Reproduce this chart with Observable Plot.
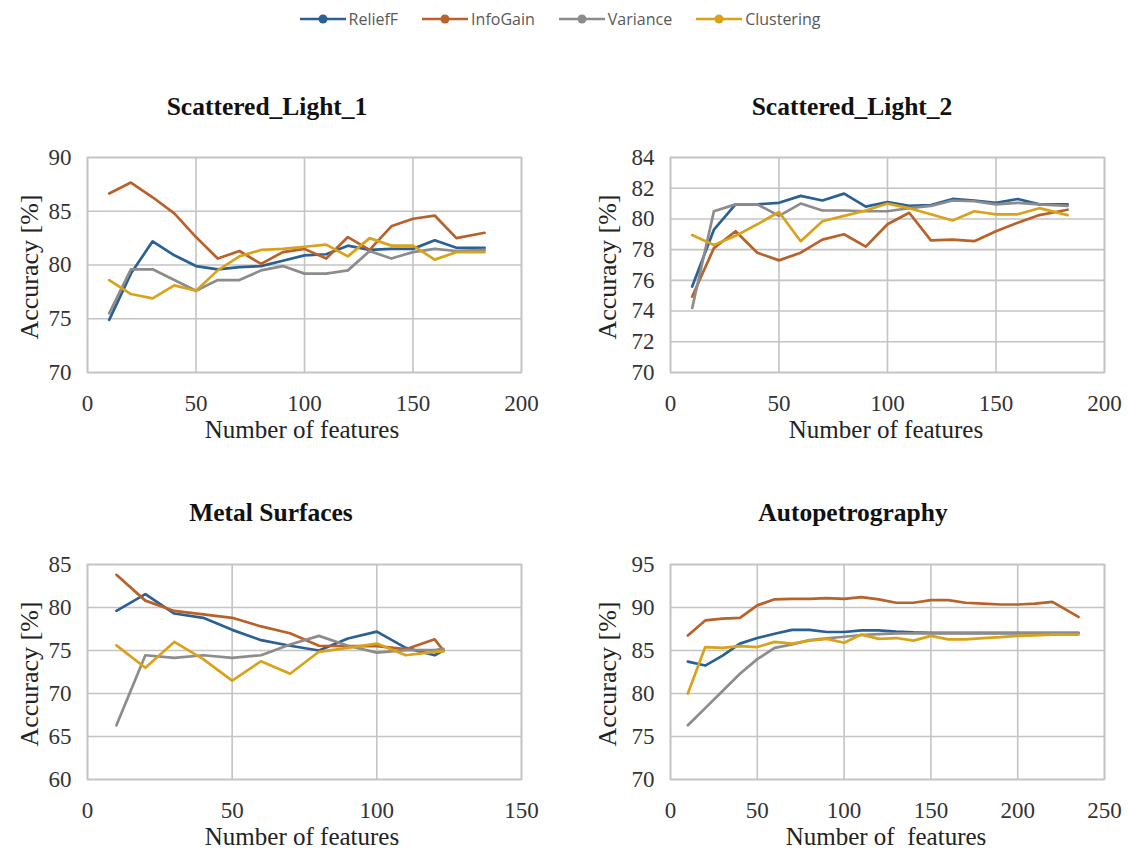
<!DOCTYPE html>
<html>
<head>
<meta charset="utf-8">
<script src="https://cdn.jsdelivr.net/npm/d3@7"></script>
<script src="https://cdn.jsdelivr.net/npm/@observablehq/plot@0.6"></script>
<style>
  html, body { margin: 0; padding: 0; background: #fff; overflow: hidden; }
  #root { position: relative; width: 1128px; height: 857px; }
  .abs { position: absolute; line-height: 1; }
  .ptitle { font-family: "Liberation Serif", serif; font-weight: bold; font-size: 25.5px; color: #111; transform: translate(-50%, -50%); white-space: nowrap; }
  .xtitle { font-family: "Liberation Serif", serif; font-size: 25px; color: #222; transform: translate(-50%, -50%); white-space: pre; }
  .ytitle { font-family: "Liberation Serif", serif; font-size: 26px; color: #222; transform: translate(-50%, -50%) rotate(-90deg); white-space: nowrap; }
  #legend { position: absolute; top: 9px; left: 0; width: 1120px; display: flex; justify-content: center; gap: 24px; font-family: "Open Sans", sans-serif; font-size: 16px; line-height: 20px; color: #595959; }
  #legend .item { display: flex; align-items: center; gap: 3px; }
</style>
</head>
<body>
<div id="root"></div>
<script>
// ---- data ----
const seriesNames = ["ReliefF", "InfoGain", "Variance", "Clustering"];
const seriesColors = ["#2b6094", "#b8622a", "#8c8c8c", "#d9a21a"];

// Scattered_Light_1
const sl1X = [10,20,30,40,50,60,70,80,90,100,110,120,130,140,150,160,170,183];
const sl1ReliefF = [74.9,79.2,82.2,80.9,79.9,79.6,79.8,79.9,80.4,80.9,81.0,81.8,81.4,81.5,81.5,82.3,81.6,81.6];
const sl1InfoGain = [86.65,87.67,86.3,84.8,82.6,80.6,81.3,80.1,81.2,81.5,80.6,82.6,81.4,83.6,84.3,84.6,82.5,83.0];
const sl1Variance = [75.5,79.6,79.6,78.6,77.6,78.6,78.6,79.5,79.9,79.2,79.2,79.5,81.3,80.6,81.2,81.5,81.3,81.4];
const sl1Clustering = [78.6,77.3,76.9,78.1,77.6,79.5,80.8,81.4,81.5,81.7,81.9,80.8,82.5,81.8,81.8,80.5,81.2,81.2];

// Scattered_Light_2
const sl2X = [10,20,30,40,50,60,70,80,90,100,110,120,130,140,150,160,170,183];
const sl2ReliefF = [75.6,79.3,80.95,80.95,81.05,81.5,81.2,81.65,80.8,81.1,80.85,80.9,81.3,81.2,81.05,81.3,80.95,80.95];
const sl2InfoGain = [74.95,78.1,79.2,77.8,77.3,77.8,78.65,79.0,78.2,79.65,80.4,78.6,78.65,78.55,79.2,79.75,80.25,80.6];
const sl2Variance = [74.2,80.5,80.95,80.95,80.2,81.0,80.55,80.55,80.5,80.5,80.7,80.85,81.2,81.15,80.95,81.05,80.95,80.85];
const sl2Clustering = [78.95,78.3,78.9,79.65,80.45,78.55,79.85,80.2,80.55,81.0,80.7,80.3,79.9,80.5,80.3,80.3,80.7,80.25];

// Metal Surfaces
const msX = [10,20,30,40,50,60,70,80,90,100,110,120,123];
const msReliefF = [79.6,81.55,79.3,78.8,77.4,76.2,75.55,75.0,76.4,77.2,75.3,74.45,75.0];
const msInfoGain = [83.8,80.8,79.6,79.2,78.8,77.8,77.0,75.55,75.5,75.5,75.15,76.3,75.0];
const msVariance = [66.3,74.45,74.15,74.45,74.15,74.45,75.7,76.7,75.55,74.75,75.05,75.05,75.2];
const msClustering = [75.6,73.0,76.0,74.0,71.5,73.75,72.3,74.85,75.3,75.8,74.45,74.85,74.9];

// Autopetrography
const apX = [10,20,30,40,50,60,70,80,90,100,110,120,130,140,150,160,170,180,190,200,210,220,230,235];
const apReliefF = [83.7,83.25,84.4,85.8,86.45,86.95,87.4,87.4,87.15,87.15,87.35,87.35,87.2,87.1,87.05,87.05,87.05,87.05,87.05,87.05,87.05,87.05,87.05,87.05];
const apInfoGain = [86.75,88.5,88.7,88.8,90.25,90.95,91.0,91.0,91.1,91.0,91.2,90.95,90.55,90.55,90.85,90.85,90.55,90.45,90.35,90.35,90.45,90.65,89.5,88.9];
const apVariance = [76.3,78.3,80.3,82.3,84.0,85.3,85.7,86.2,86.4,86.6,86.8,86.9,87.0,87.0,87.0,87.0,87.0,87.0,87.0,87.0,87.0,87.0,87.0,87.0];
const apClustering = [80.0,85.4,85.3,85.5,85.4,86.0,85.8,86.15,86.35,85.9,86.85,86.35,86.45,86.15,86.7,86.3,86.3,86.45,86.55,86.7,86.75,86.85,86.85,86.85];

// tick labels
const xTicks200 = [0,50,100,150,200];
const xTicks150 = [0,50,100,150];
const xTicks250 = [0,50,100,150,200,250];
const yTicksSL1 = [70,75,80,85,90];
const yTicksSL2 = [70,72,74,76,78,80,82,84];
const yTicksMS = [60,65,70,75,80,85];
const yTicksAP = [70,75,80,85,90,95];

const panels = [
  {title: "Scattered_Light_1", xlabel: "Number of features", x: sl1X, s: [sl1ReliefF, sl1InfoGain, sl1Variance, sl1Clustering], xTicks: xTicks200, yTicks: yTicksSL1,
   left: 0, top: 140, tx: 267, ty: 107, lx: 302, ly: 429, yx: 30, yy: 267},
  {title: "Scattered_Light_2", xlabel: "Number of features", x: sl2X, s: [sl2ReliefF, sl2InfoGain, sl2Variance, sl2Clustering], xTicks: xTicks200, yTicks: yTicksSL2,
   left: 583, top: 140, tx: 852, ty: 107, lx: 886, ly: 429, yx: 608, yy: 267},
  {title: "Metal Surfaces", xlabel: "Number of features", x: msX, s: [msReliefF, msInfoGain, msVariance, msClustering], xTicks: xTicks150, yTicks: yTicksMS,
   left: 0, top: 547, tx: 271, ty: 513, lx: 302, ly: 836, yx: 30, yy: 674},
  {title: "Autopetrography", xlabel: "Number of  features", x: apX, s: [apReliefF, apInfoGain, apVariance, apClustering], xTicks: xTicks250, yTicks: yTicksAP,
   left: 583, top: 547, tx: 853, ty: 513, lx: 886, ly: 836, yx: 608, yy: 674}
];

const root = document.getElementById("root");

// legend
const legend = document.createElement("div");
legend.id = "legend";
seriesNames.forEach((n, i) => {
  const it = document.createElement("div");
  it.className = "item";
  it.innerHTML = `<svg width="46" height="12"><line x1="0" y1="6" x2="46" y2="6" stroke="${seriesColors[i]}" stroke-width="2.5"/><circle cx="23" cy="6" r="4.5" fill="${seriesColors[i]}"/></svg><span>${n}</span>`;
  legend.appendChild(it);
});
root.appendChild(legend);

const gridColor = "#c4c4c4";

panels.forEach(p => {
  const data = [];
  p.s.forEach((arr, si) => arr.forEach((v, i) => data.push({x: p.x[i], y: v, series: seriesNames[si]})));
  const xd = [p.xTicks[0], p.xTicks[p.xTicks.length - 1]];
  const yd = [p.yTicks[0], p.yTicks[p.yTicks.length - 1]];
  const chart = Plot.plot({
    width: 541, height: 277,
    marginLeft: 87, marginRight: 20, marginTop: 17, marginBottom: 45,
    style: {fontFamily: "'Liberation Serif', serif", fontSize: "23px", color: "#333", background: "transparent", overflow: "visible"},
    x: {domain: xd, ticks: p.xTicks, tickSize: 0, tickPadding: 22, label: null},
    y: {domain: yd, ticks: p.yTicks, tickSize: 0, tickPadding: 16, label: null},
    color: {domain: seriesNames, range: seriesColors},
    marks: [
      Plot.gridX(p.xTicks, {stroke: gridColor, strokeOpacity: 1, strokeWidth: 1.6}),
      Plot.gridY(p.yTicks, {stroke: gridColor, strokeOpacity: 1, strokeWidth: 1.6}),
      Plot.frame({stroke: gridColor, strokeWidth: 1.6}),
      Plot.line(data, {x: "x", y: "y", z: "series", stroke: "series", strokeWidth: 2.7, strokeLinejoin: "round"})
    ]
  });
  chart.style.position = "absolute";
  chart.style.left = p.left + "px";
  chart.style.top = p.top + "px";
  root.appendChild(chart);

  const t = document.createElement("div");
  t.className = "abs ptitle"; t.textContent = p.title;
  t.style.left = p.tx + "px"; t.style.top = p.ty + "px";
  root.appendChild(t);

  const xl = document.createElement("div");
  xl.className = "abs xtitle"; xl.textContent = p.xlabel;
  xl.style.left = p.lx + "px"; xl.style.top = p.ly + "px";
  root.appendChild(xl);

  const yl = document.createElement("div");
  yl.className = "abs ytitle"; yl.textContent = "Accuracy [%]";
  yl.style.left = p.yx + "px"; yl.style.top = p.yy + "px";
  root.appendChild(yl);
});
</script>
</body>
</html>
